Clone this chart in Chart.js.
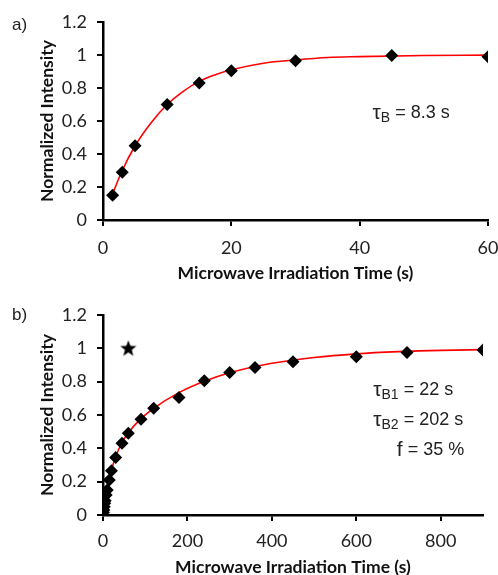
<!DOCTYPE html>
<html>
<head>
<meta charset="utf-8">
<script src="https://cdn.jsdelivr.net/npm/chart.js@4.4.0/dist/chart.umd.min.js"></script>
<style>
  body { margin: 0; background: #fff; }
  .wrap { position: absolute; left: 0; width: 498px; }
  #wrapA { top: 0; height: 288px; }
  #wrapB { top: 288px; height: 287px; }
</style>
</head>
<body>
<div class="wrap" id="wrapA"><canvas id="chartA"></canvas></div>
<div class="wrap" id="wrapB"><canvas id="chartB"></canvas></div>
<script>
// panel a) data
const timeA = [1.5, 3, 5, 10, 15, 20, 30, 45, 60];
const intensityA = [0.15, 0.29, 0.45, 0.70, 0.83, 0.905, 0.965, 0.997, 0.99];
const fitTimeA = [1.5, 3, 5, 7.5, 10, 12.5, 15, 17.5, 20, 25, 30, 35, 40, 50, 60];
const fitA = [0.16, 0.30, 0.45, 0.59, 0.70, 0.78, 0.84, 0.88, 0.91, 0.95, 0.97, 0.985, 0.99, 0.997, 0.999];

// panel b) data
const timeB = [1, 2, 3, 4, 5, 7.5, 10, 15, 20, 30, 45, 60, 90, 120, 180, 240, 300, 360, 450, 600, 720, 900];
const intensityB = [0.015, 0.03, 0.05, 0.07, 0.085, 0.12, 0.15, 0.21, 0.265, 0.345, 0.43, 0.49, 0.575, 0.64, 0.705, 0.805, 0.855, 0.885, 0.92, 0.95, 0.975, 0.99];
const fitTimeB = [0, 5, 10, 20, 30, 45, 60, 90, 120, 180, 240, 300, 400, 500, 600, 700, 800, 900];
const fitB = [0, 0.087, 0.159, 0.270, 0.350, 0.435, 0.494, 0.578, 0.640, 0.734, 0.802, 0.853, 0.910, 0.945, 0.967, 0.980, 0.988, 0.992];
const starTime = [60];
const starValue = [1.0];

const ticksA = [0, 20, 40, 60];
const ticksB = [0, 200, 400, 600, 800];
const yTicks = [0, 0.2, 0.4, 0.6, 0.8, 1, 1.2];

function toPoints(xs, ys) {
    return xs.map((x, i) => ({ x: x, y: ys[i] }));
}

function makeStar() {
    const c = document.createElement("canvas");
    c.width = 18;
    c.height = 18;
    const g = c.getContext("2d");
    g.fillStyle = "#000";
    g.beginPath();
    for (let i = 0; i < 10; i++) {
        const r = i % 2 === 0 ? 8.5 : 3.6;
        const a = -Math.PI / 2 + (i * Math.PI) / 5;
        g.lineTo(9 + r * Math.cos(a), 9.5 + r * Math.sin(a));
    }
    g.closePath();
    g.fill();
    return c;
}

// text drawn inside the plot (panel letter + fit parameters)
const notesPlugin = {
    id: "notes",
    afterDraw(chart, args, opts) {
        const ctx = chart.ctx;
        const xs = chart.scales.x;
        const ys = chart.scales.y;
        ctx.save();
        ctx.fillStyle = "#222";
        ctx.textBaseline = "middle";
        ctx.font = "17px 'Liberation Sans', Arial";
        ctx.fillText(opts.panel, 12, opts.panelY);
        opts.lines.forEach((ln) => {
            let px = xs.getPixelForValue(ln.x);
            const py = ys.getPixelForValue(ln.y);
            ctx.font = "21px 'Liberation Sans', Arial";
            ctx.fillText(ln.main, px, py);
            px += ctx.measureText(ln.main).width;
            if (ln.sub) {
                ctx.font = "14px 'Liberation Sans', Arial";
                ctx.fillText(ln.sub, px, py + 5);
                px += ctx.measureText(ln.sub).width;
            }
            ctx.font = "18px 'Liberation Sans', Arial";
            ctx.fillText(ln.rest, px, py);
        });
        ctx.restore();
    },
};

function buildChart(id, cfg) {
    const ctx = document.getElementById(id).getContext("2d");
    return new Chart(ctx, {
        type: "scatter",
        data: {
            datasets: [
                {
                    type: "line",
                    data: toPoints(cfg.fitX, cfg.fitY),
                    borderColor: "#ff0000",
                    borderWidth: 1.6,
                    pointRadius: 0,
                    cubicInterpolationMode: "monotone",
                    order: 2,
                },
                {
                    data: toPoints(cfg.x, cfg.y),
                    pointStyle: "rectRot",
                    pointRadius: 6.5,
                    backgroundColor: "#000",
                    borderColor: "#000",
                    borderWidth: 0,
                    order: 1,
                },
            ].concat(cfg.extra || []),
        },
        options: {
            responsive: true,
            maintainAspectRatio: false,
            animation: false,
            layout: { padding: { left: 0, right: cfg.padRight, top: cfg.padTop, bottom: 0 } },
            plugins: {
                legend: { display: false },
                tooltip: { enabled: false },
                notes: cfg.notes,
            },
            scales: {
                x: {
                    type: "linear",
                    min: 0,
                    max: cfg.xMax,
                    afterBuildTicks: (s) => { s.ticks = cfg.xTicks.map((v) => ({ value: v })); },
                    afterFit: (s) => {
                        s.height = cfg.xHeight;
                        s.paddingRight = 0;
                        s.paddingLeft = 0;
                    },
                    border: { color: "#000", width: 2.5 },
                    grid: { drawOnChartArea: false, color: "#000", lineWidth: 2, tickLength: 6 },
                    ticks: { color: "#222", padding: cfg.tickPad, font: { family: "Lato", size: 18 } },
                    title: {
                        display: true,
                        text: "Microwave Irradiation Time (s)",
                        color: "#111",
                        padding: cfg.titlePad,
                        font: { family: "Lato", size: 17.5, weight: "bold" },
                    },
                },
                y: {
                    min: 0,
                    max: 1.2,
                    afterBuildTicks: (s) => { s.ticks = yTicks.map((v) => ({ value: v })); },
                    afterFit: (s) => { s.width = 103; },
                    border: { color: "#000", width: 2.5 },
                    grid: { drawOnChartArea: false, color: "#000", lineWidth: 2, tickLength: 6 },
                    ticks: {
                        color: "#222",
                        padding: 10,
                        font: { family: "Lato", size: 18 },
                        callback: (v) => String(Math.round(v * 10) / 10),
                    },
                    title: {
                        display: true,
                        text: "Normalized Intensity",
                        color: "#111",
                        padding: 37,
                        font: { family: "Lato", size: 17.5, weight: "bold" },
                    },
                },
            },
        },
        plugins: [notesPlugin],
    });
}

document.addEventListener("DOMContentLoaded", () => {
    buildChart("chartA", {
        x: timeA, y: intensityA, fitX: fitTimeA, fitY: fitA,
        xMax: 60, xTicks: ticksA, xHeight: 68, padTop: 22, padRight: 10,
        titlePad: 4, tickPad: 11,
        notes: {
            panel: "a)", panelY: 25,
            lines: [{ x: 42, y: 0.65, main: "\u03c4", sub: "B", rest: " = 8.3 s" }],
        },
    });

    buildChart("chartB", {
        x: timeB, y: intensityB, fitX: fitTimeB, fitY: fitB,
        xMax: 900, xTicks: ticksB, xHeight: 60, padTop: 27, padRight: 15,
        titlePad: -3, tickPad: 9,
        extra: [{
            data: toPoints(starTime, starValue),
            pointStyle: makeStar(),
            order: 0,
        }],
        notes: {
            panel: "b)", panelY: 27,
            lines: [
                { x: 640, y: 0.75, main: "\u03c4", sub: "B1", rest: " = 22 s" },
                { x: 640, y: 0.57, main: "\u03c4", sub: "B2", rest: " = 202 s" },
                { x: 696, y: 0.39, main: "f", sub: "", rest: " = 35 %" },
            ],
        },
    });
});
</script>
</body>
</html>
